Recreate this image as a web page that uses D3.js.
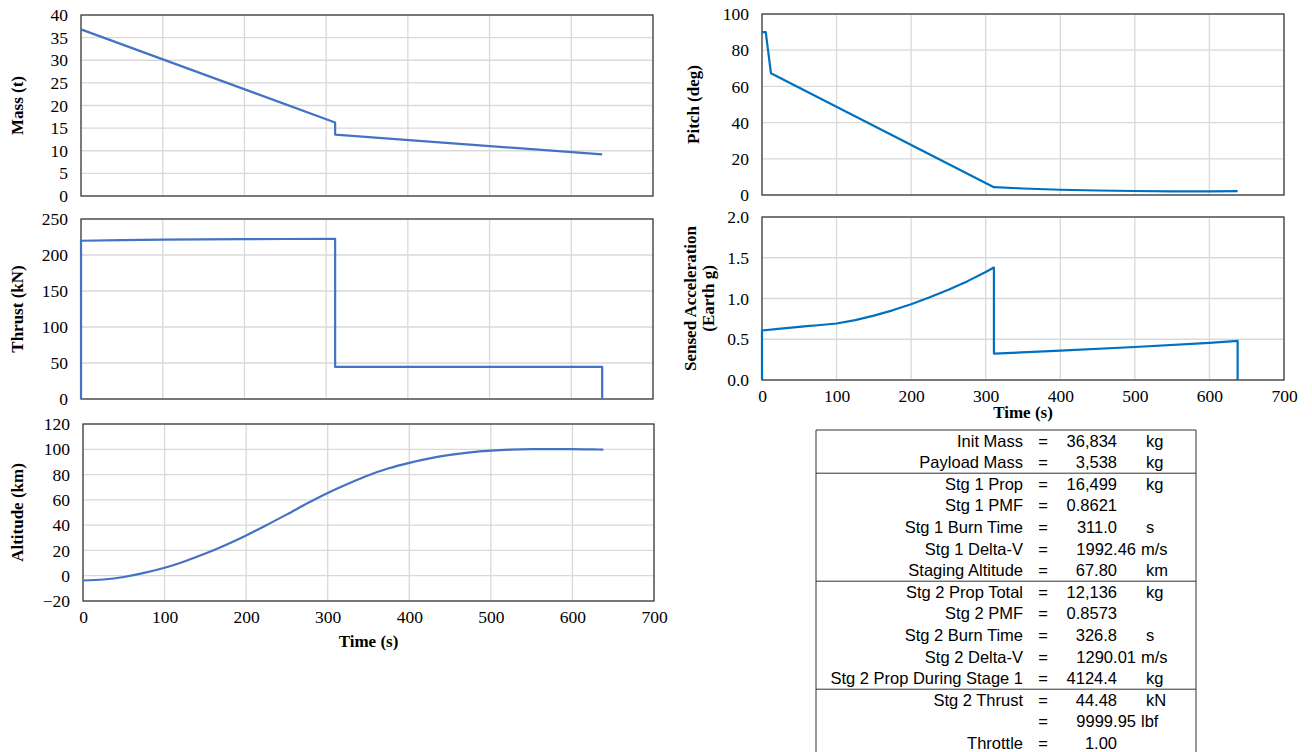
<!DOCTYPE html>
<html>
<head>
<meta charset="utf-8">
<script src="https://cdn.jsdelivr.net/npm/d3@7"></script>
<style>
  body { margin: 0; background: #fff; }
  .title { font-family: "Liberation Serif", "Times New Roman", serif; font-size: 17px; font-weight: bold; fill: #000; }
  .grid line { stroke: #d9d9d9; stroke-width: 1.3; }
  .tbl text { font-family: "Liberation Sans", Arial, sans-serif; font-size: 16.5px; fill: #000; }
</style>
</head>
<body>
<script>
/***** Data *****/
var massTime = [0, 311, 311, 637.8];
var massValues = [36.83, 16.25, 13.58, 9.2];

var thrustTime = [0, 0, 50, 100, 150, 200, 250, 311, 311, 637.8, 637.8];
var thrustValues = [0, 219.8, 220.7, 221.4, 221.8, 222.0, 222.2, 222.3, 44.48, 44.48, 0];

var altTime = [0, 25, 50, 75, 100, 125, 150, 175, 200, 225, 250, 275, 300, 325, 350, 375, 400, 425, 450, 475, 500, 525, 550, 575, 600, 625, 637.8];
var altValues = [-3.8, -3.0, -1.0, 2.2, 6.3, 11.5, 17.5, 24.3, 31.8, 40.0, 48.5, 57.3, 65.5, 72.8, 79.5, 85.0, 89.3, 92.8, 95.6, 97.6, 98.9, 99.7, 100.1, 100.2, 100.1, 99.9, 99.8];

var pitchTime = [0, 5, 12, 311, 350, 400, 450, 500, 550, 600, 637.8];
var pitchValues = [90, 90, 67.3, 4.3, 3.6, 2.9, 2.5, 2.2, 2.0, 1.95, 2.1];

var accelTime = [0, 0, 25, 50, 60, 75, 100, 125, 150, 175, 200, 225, 250, 275, 300, 311, 311, 400, 500, 600, 637.8, 637.8];
var accelValues = [0, 0.607, 0.63, 0.652, 0.662, 0.672, 0.693, 0.735, 0.79, 0.855, 0.93, 1.015, 1.108, 1.21, 1.325, 1.38, 0.324, 0.36, 0.405, 0.455, 0.48, 0];

var timeTicks = [0, 100, 200, 300, 400, 500, 600, 700];

var tableLabels = ["Init Mass", "Payload Mass", "Stg 1 Prop", "Stg 1 PMF", "Stg 1 Burn Time", "Stg 1 Delta-V",
  "Staging Altitude", "Stg 2 Prop Total", "Stg 2 PMF", "Stg 2 Burn Time", "Stg 2 Delta-V",
  "Stg 2 Prop During Stage 1", "Stg 2 Thrust", "", "Throttle"];
var tableValues = ["36,834", "3,538", "16,499", "0.8621", "311.0", "1992.46", "67.80", "12,136", "0.8573",
  "326.8", "1290.01", "4124.4", "44.48", "9999.95", "1.00"];
var tableUnits = ["kg", "kg", "kg", "", "s", "m/s", "km", "kg", "", "s", "m/s", "kg", "kN", "lbf", ""];
var tableSections = [2, 7, 12];

/***** Configuration *****/
var blueA = "#4472C4";
var blueB = "#0070C0";
var serif = '"Liberation Serif", "Times New Roman", serif';

var panels = [
  { t: massTime, v: massValues, left: 81, right: 653, top: 15, bottom: 196, domain: [0, 40], step: 5, fmt: "d",
    titles: ["Mass (t)"], titleX: [17], color: blueA, xLabels: false },
  { t: thrustTime, v: thrustValues, left: 81, right: 653, top: 219, bottom: 399, domain: [0, 250], step: 50, fmt: "d",
    titles: ["Thrust (kN)"], titleX: [17], color: blueA, xLabels: false },
  { t: altTime, v: altValues, left: 83, right: 654, top: 424, bottom: 601, domain: [-20, 120], step: 20, fmt: "d",
    titles: ["Altitude (km)"], titleX: [17], color: blueA, xLabels: true, xTitleY: 641, smooth: true },
  { t: pitchTime, v: pitchValues, left: 762, right: 1284, top: 14, bottom: 195, domain: [0, 100], step: 20, fmt: "d",
    titles: ["Pitch (deg)"], titleX: [693], color: blueB, xLabels: false },
  { t: accelTime, v: accelValues, left: 762, right: 1284, top: 217, bottom: 380, domain: [0, 2], step: 0.5, fmt: ".1f",
    titles: ["Sensed Acceleration", "(Earth g)"], titleX: [690, 708], color: blueB, xLabels: true, xTitleY: 412 }
];

var svg = d3.select("body")
  .append("svg")
  .attr("width", 1312)
  .attr("height", 752);

function styleAxis(s) {
  s.select(".domain").remove();
  s.selectAll("text")
    .style("font-family", serif)
    .style("font-size", "17.5px")
    .style("fill", "#000");
}

/***** Charts *****/
panels.forEach(function (p) {
  var x = d3.scaleLinear().domain([0, 700]).range([p.left, p.right]);
  var y = d3.scaleLinear().domain(p.domain).range([p.bottom, p.top]);
  var yTicks = d3.range(p.domain[0], p.domain[1] + p.step / 2, p.step);

  var g = svg.append("g");

  // gridlines
  var grid = g.append("g").attr("class", "grid");
  grid.selectAll(".h").data(yTicks).enter().append("line")
    .attr("x1", p.left).attr("x2", p.right)
    .attr("y1", function (d) { return y(d); }).attr("y2", function (d) { return y(d); });
  grid.selectAll(".v").data(timeTicks).enter().append("line")
    .attr("y1", p.top).attr("y2", p.bottom)
    .attr("x1", function (d) { return x(d); }).attr("x2", function (d) { return x(d); });

  // plot frame
  g.append("rect")
    .attr("x", p.left).attr("y", p.top)
    .attr("width", p.right - p.left).attr("height", p.bottom - p.top)
    .attr("fill", "none").attr("stroke", "#404040").attr("stroke-width", 1.3);

  // axes
  var yAxis = d3.axisLeft(y).tickValues(yTicks).tickSize(0).tickPadding(13).tickFormat(d3.format(p.fmt));
  g.append("g").attr("transform", "translate(" + p.left + ",0)").call(yAxis).call(styleAxis);

  if (p.xLabels) {
    var xAxis = d3.axisBottom(x).tickValues(timeTicks).tickSize(0).tickPadding(10).tickFormat(d3.format("d"));
    g.append("g").attr("transform", "translate(0," + p.bottom + ")").call(xAxis).call(styleAxis);
    g.append("text").attr("class", "title")
      .attr("x", (p.left + p.right) / 2).attr("y", p.xTitleY)
      .attr("text-anchor", "middle").attr("dy", "0.35em")
      .text("Time (s)");
  }

  // y titles
  p.titles.forEach(function (t, i) {
    g.append("text").attr("class", "title")
      .attr("transform", "translate(" + p.titleX[i] + "," + (p.top + p.bottom) / 2 + ") rotate(-90)")
      .attr("text-anchor", "middle").attr("dy", "0.35em")
      .text(t);
  });

  // series
  var pts = p.t.map(function (t, i) { return [t, p.v[i]]; });
  var line = d3.line()
    .x(function (d) { return x(d[0]); })
    .y(function (d) { return y(d[1]); })
    .curve(p.smooth ? d3.curveMonotoneX : d3.curveLinear);
  g.append("path")
    .datum(pts)
    .attr("d", line)
    .attr("fill", "none")
    .attr("stroke", p.color)
    .attr("stroke-width", 2.2)
    .attr("stroke-linejoin", "round");
});

/***** Summary table *****/
var tbl = svg.append("g").attr("class", "tbl");
var tLeft = 816, tRight = 1196, tTop = 430, rowH = 21.6;

tbl.append("path")
  .attr("d", "M" + tLeft + ",760V" + tTop + "H" + tRight + "V760")
  .attr("fill", "none").attr("stroke", "#333").attr("stroke-width", 1);

tbl.selectAll(".sep").data(tableSections).enter().append("line")
  .attr("x1", tLeft).attr("x2", tRight)
  .attr("y1", function (d) { return tTop + d * rowH; })
  .attr("y2", function (d) { return tTop + d * rowH; })
  .attr("stroke", "#333").attr("stroke-width", 1);

var rows = tbl.selectAll(".row").data(tableLabels).enter().append("g")
  .attr("transform", function (d, i) { return "translate(0," + (tTop + (i + 0.5) * rowH) + ")"; });

rows.append("text").attr("x", 1023).attr("dy", "0.35em").attr("text-anchor", "end")
  .text(function (d) { return d; });
rows.append("text").attr("x", 1043).attr("dy", "0.35em").attr("text-anchor", "middle")
  .text("=");
rows.append("text")
  .attr("x", function (d, i) { return tableValues[i].length > 6 ? 1136 : 1117; })
  .attr("dy", "0.35em").attr("text-anchor", "end")
  .text(function (d, i) { return tableValues[i]; });
rows.append("text")
  .attr("x", function (d, i) { return tableValues[i].length > 6 ? 1141 : 1146; })
  .attr("dy", "0.35em")
  .text(function (d, i) { return tableUnits[i]; });
</script>
</body>
</html>
